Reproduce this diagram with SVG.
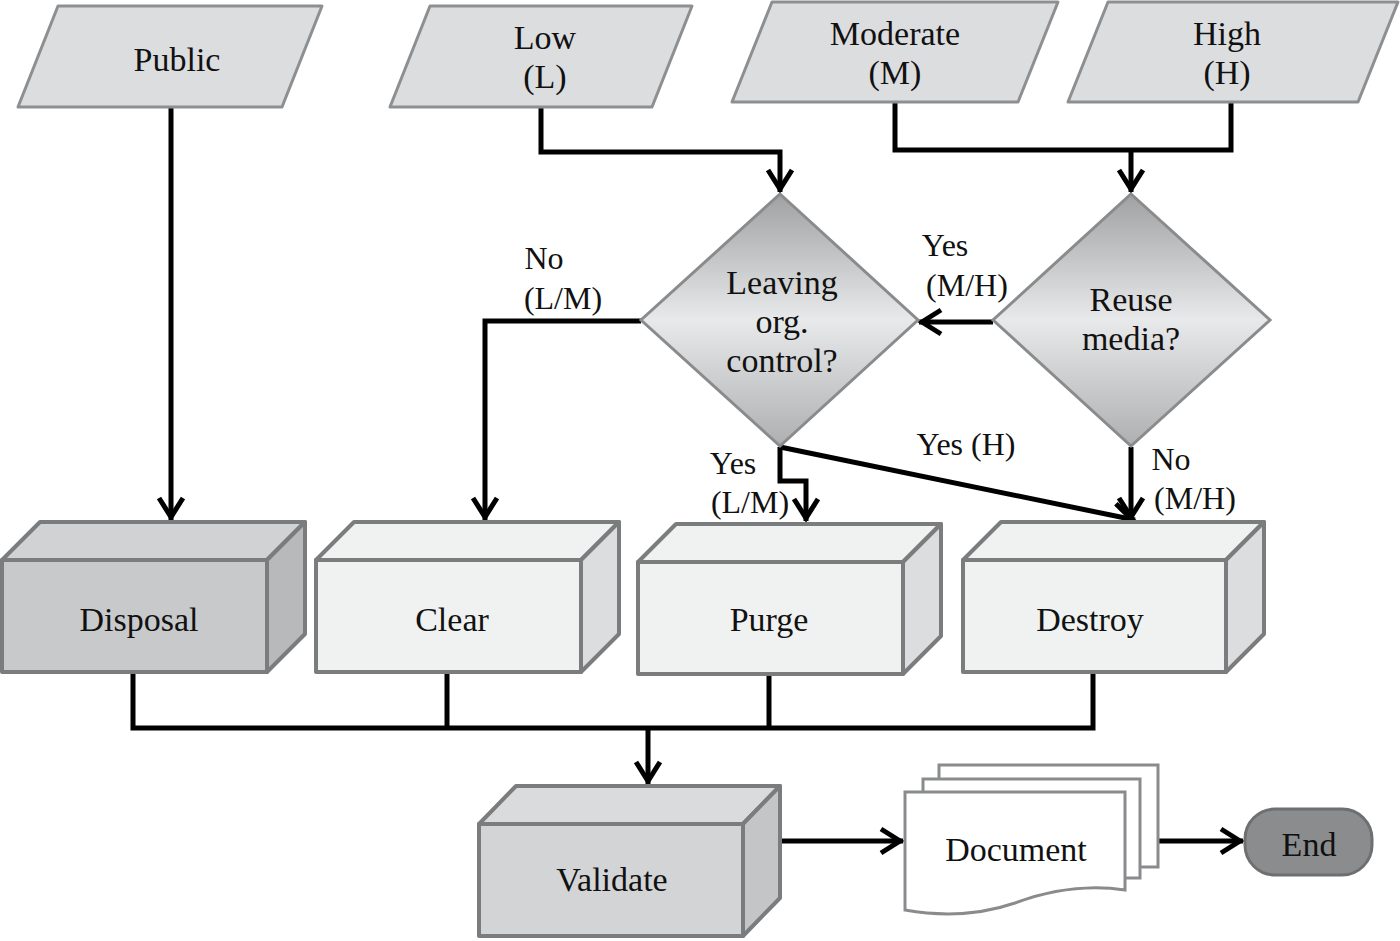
<svg xmlns="http://www.w3.org/2000/svg" width="1400" height="941" viewBox="0 0 1400 941">
<style>
  .t { font-family: "Liberation Serif", "Times New Roman", serif; font-size: 34px; fill: #111; text-anchor: middle; }
  .lbl { font-family: "Liberation Serif", "Times New Roman", serif; font-size: 32px; fill: #111; text-anchor: middle; }
  .para { fill: #dcdddf; stroke: #8e8f91; stroke-width: 3; stroke-linejoin: round; }
  .dia { fill: url(#diaGrad); stroke: #8a8b8d; stroke-width: 3; }
  .box { stroke: #7b7c7e; stroke-width: 4; stroke-linejoin: round; }
  .lf { fill: #f0f1f1; }
  .ls { fill: #dcdddf; }
  .df { fill: #c8c9cb; }
  .dt { fill: #d1d2d4; }
  .ds { fill: #b8b9bb; }
  .vf { fill: #d3d4d6; }
  .vt { fill: #dadbdd; }
  .vs { fill: #c4c5c7; }
  .doc { fill: #ffffff; stroke: #8a8b8d; stroke-width: 3; }
  .con { fill: none; stroke: #000; stroke-width: 5; stroke-linejoin: miter; }
  .arr { marker-end: url(#ah); }
</style>
<defs>
  <linearGradient id="diaGrad" x1="0" y1="0" x2="0" y2="1">
    <stop offset="0" stop-color="#a0a1a3"/>
    <stop offset="0.5" stop-color="#e8e9ea"/>
    <stop offset="1" stop-color="#aeafb1"/>
  </linearGradient>
  <marker id="ah" markerUnits="userSpaceOnUse" markerWidth="32" markerHeight="32" viewBox="-28 -16 32 32" refX="0" refY="0" orient="auto" overflow="visible">
    <path d="M-22,-12 L-3,0 L-22,12" fill="none" stroke="#000" stroke-width="5" stroke-linejoin="miter"/>
  </marker>
</defs>
<rect width="1400" height="941" fill="#ffffff"/>

<g id="connectors">
  <path class="con arr" d="M171,107 L171,520"/>
  <path class="con arr" d="M541,107 L541,152 L780,152 L780,192"/>
  <path class="con" d="M895,102 L895,150 L1231,150 L1231,102"/>
  <path class="con arr" d="M1131,150 L1131,192"/>
  <path class="con arr" d="M993,322 L919,322"/>
  <path class="con arr" d="M641,321 L485,321 L485,520"/>
  <path class="con arr" d="M780,447 L780,481 L806,481 L806,521"/>
  <path class="con arr" d="M780,447 L1135,520"/>
  <path class="con arr" d="M1131,447 L1131,520"/>
  <path class="con" d="M133,672 L133,728 L1093,728 L1093,672"/>
  <path class="con" d="M447,672 L447,728"/>
  <path class="con" d="M769,674 L769,728"/>
  <path class="con arr" d="M648,728 L648,784"/>
  <path class="con arr" d="M743,841 L903,841"/>
  <path class="con arr" d="M1158,841 L1243,841"/>
</g>

<g id="labels">
  <text class="lbl" x="945" y="256">Yes</text>
  <text class="lbl" x="967" y="296">(M/H)</text>
  <text class="lbl" x="544" y="269">No</text>
  <text class="lbl" x="563" y="309">(L/M)</text>
  <text class="lbl" x="733" y="474">Yes</text>
  <text class="lbl" x="750" y="513">(L/M)</text>
  <text class="lbl" x="966" y="455">Yes (H)</text>
  <text class="lbl" x="1171" y="470">No</text>
  <text class="lbl" x="1195" y="509">(M/H)</text>
</g>

<g id="public">
  <polygon class="para" points="58,6 322,6 282,107 18,107"/>
  <text class="t" x="177" y="71">Public</text>
</g>
<g id="low">
  <polygon class="para" points="430,6 692,6 652,107 390,107"/>
  <text class="t" x="545" y="49">Low</text>
  <text class="t" x="545" y="88">(L)</text>
</g>
<g id="moderate">
  <polygon class="para" points="772,2 1058,2 1018,102 732,102"/>
  <text class="t" x="895" y="45">Moderate</text>
  <text class="t" x="895" y="84">(M)</text>
</g>
<g id="high">
  <polygon class="para" points="1108,2 1398,2 1358,102 1068,102"/>
  <text class="t" x="1227" y="45">High</text>
  <text class="t" x="1227" y="84">(H)</text>
</g>

<g id="leaving">
  <polygon class="dia" points="780,194 918,320 780,446 641,320"/>
  <text class="t" x="782" y="294">Leaving</text>
  <text class="t" x="782" y="333">org.</text>
  <text class="t" x="782" y="372">control?</text>
</g>
<g id="reuse">
  <polygon class="dia" points="1131,194 1270,320 1131,446 993,320"/>
  <text class="t" x="1131" y="311">Reuse</text>
  <text class="t" x="1131" y="350">media?</text>
</g>

<g id="disposal">
  <polygon class="box dt" points="2,560 40,522 305,522 267,560"/>
  <polygon class="box ds" points="267,560 305,522 305,634 267,672"/>
  <rect class="box df" x="2" y="560" width="265" height="112"/>
  <text class="t" x="139" y="631">Disposal</text>
</g>
<g id="clear">
  <polygon class="box lf" points="316,560 354,522 619,522 581,560"/>
  <polygon class="box ls" points="581,560 619,522 619,634 581,672"/>
  <rect class="box lf" x="316" y="560" width="265" height="112"/>
  <text class="t" x="452" y="631">Clear</text>
</g>
<g id="purge">
  <polygon class="box lf" points="638,562 676,524 941,524 903,562"/>
  <polygon class="box ls" points="903,562 941,524 941,636 903,674"/>
  <rect class="box lf" x="638" y="562" width="265" height="112"/>
  <text class="t" x="769" y="631">Purge</text>
</g>
<g id="destroy">
  <polygon class="box lf" points="963,560 1001,522 1264,522 1226,560"/>
  <polygon class="box ls" points="1226,560 1264,522 1264,634 1226,672"/>
  <rect class="box lf" x="963" y="560" width="263" height="112"/>
  <text class="t" x="1090" y="631">Destroy</text>
</g>
<g id="validate">
  <polygon class="box vt" points="479,824 516,786 780,786 743,824"/>
  <polygon class="box vs" points="743,824 780,786 780,898 743,936"/>
  <rect class="box vf" x="479" y="824" width="264" height="112"/>
  <text class="t" x="612" y="891">Validate</text>
</g>

<g id="document">
  <rect class="doc" x="939" y="765" width="219" height="102"/>
  <rect class="doc" x="923" y="779" width="217" height="99"/>
  <path class="doc" d="M905,792 L1125,792 L1125,890 C1085,884 1050,890 1015,903 C980,915 945,917 905,910 Z"/>
  <text class="t" x="1016" y="861">Document</text>
</g>

<g id="end">
  <rect x="1245" y="809" width="127" height="66" rx="30" ry="30" fill="#8b8c8e" stroke="#6e6f71" stroke-width="3"/>
  <text class="t" x="1309" y="856">End</text>
</g>
</svg>
